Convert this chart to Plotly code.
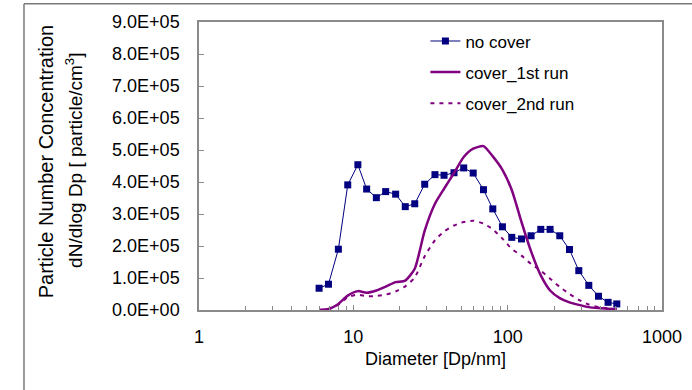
import plotly.graph_objects as go

# Particle diameters (nm)
diameter = [6.0, 6.9, 8.0, 9.2, 10.7, 12.2, 14.1, 16.2, 18.8, 21.7, 25.0, 29.0,
            33.8, 38.7, 44.9, 51.9, 59.8, 69.7, 80.1, 92.5, 106.3, 122.9, 141.8,
            163.9, 188.3, 217.6, 251.5, 289.0, 335.5, 387.6, 447.4, 509.5]

no_cover = [68000, 80600, 190000, 391000, 454000, 378000, 351000, 370000, 362000,
            323000, 332000, 393000, 423000, 421000, 429000, 444000, 428000, 376000,
            316000, 260000, 227000, 222000, 232000, 252000, 252000, 232000, 189000,
            123000, 77000, 43000, 24000, 19000]

cover_1st = [0, 3000, 19000, 45000, 59000, 54000, 61000, 73000, 87000, 92000,
             129000, 248000, 332000, 379000, 428000, 478000, 504000, 512000, 480000,
             438000, 375000, 275000, 183000, 108000, 61000, 37000, 24000, 16000,
             9000, 6000, 4000, 2000]

cover_2nd = [0, 2000, 17000, 40000, 48000, 43000, 44000, 48000, 58000, 74000,
             102000, 168000, 218000, 245000, 264000, 275000, 279000, 270000, 252000,
             223000, 191000, 170000, 144000, 123000, 98000, 72000, 50000, 32000,
             17000, 9000, 5000, 3000]

x_tickvals = [1, 10, 100, 1000]
x_ticktext = ["1", "10", "100", "1000"]
y_tickvals = [0, 1e5, 2e5, 3e5, 4e5, 5e5, 6e5, 7e5, 8e5, 9e5]
y_ticktext = ["0.0E+00", "1.0E+05", "2.0E+05", "3.0E+05", "4.0E+05",
              "5.0E+05", "6.0E+05", "7.0E+05", "8.0E+05", "9.0E+05"]

FONT = "Liberation Sans, Arial, sans-serif"
PURPLE = "#800080"
NAVY = "#000080"
GRID = "#8a8a8a"

fig = go.Figure()
fig.add_trace(go.Scatter(
    x=diameter, y=no_cover, name="no cover", mode="lines+markers",
    line=dict(color=NAVY, width=1), marker=dict(symbol="square", size=7, color=NAVY),
    legendgroup="a"))
fig.add_trace(go.Scatter(
    x=diameter, y=cover_1st, name="cover_1st run", mode="lines",
    line=dict(color=PURPLE, width=2.5, shape="spline", smoothing=0.6),
    legendgroup="b"))
fig.add_trace(go.Scatter(
    x=diameter, y=cover_2nd, name="cover_2nd run", mode="lines",
    line=dict(color=PURPLE, width=2, dash="4px,5px", shape="spline", smoothing=0.6),
    legendgroup="c"))

fig.update_layout(
    width=692, height=390,
    margin=dict(l=199, r=30, t=22, b=80, autoexpand=False),
    paper_bgcolor="white", plot_bgcolor="white",
    font=dict(family=FONT, size=18, color="black"),
    showlegend=True,
    legend=dict(x=0.489, y=0.995, xanchor="left", yanchor="top",
                bgcolor="rgba(0,0,0,0)", font=dict(size=17),
                traceorder="grouped", tracegroupgap=6),
    xaxis=dict(type="log", range=[0, 3], tickvals=x_tickvals, ticktext=x_ticktext,
               ticks="inside", ticklen=5, tickcolor=GRID, showgrid=False,
               showline=True, linecolor=GRID, linewidth=1.5, mirror=True,
               ticklabelstandoff=10, zeroline=False, automargin=False,
               minor=dict(ticks="inside", ticklen=4, tickcolor=GRID, dtick="D1",
                          showgrid=False)),
    yaxis=dict(range=[0, 9e5], tickvals=y_tickvals, ticktext=y_ticktext,
               ticks="inside", ticklen=5, tickcolor=GRID, showgrid=False,
               showline=True, linecolor=GRID, linewidth=1.5, mirror=True,
               ticklabelstandoff=14, zeroline=False, automargin=False),
    annotations=[
        dict(text="Diameter [Dp/nm]", x=0.5116, y=-0.1685, xref="paper", yref="paper",
             xanchor="center", yanchor="middle", showarrow=False, font=dict(size=18)),
        dict(text="Particle Number Concentration", x=-0.3313, y=0.515, xref="paper",
             yref="paper", xanchor="center", yanchor="middle", textangle=-90,
             showarrow=False, font=dict(size=20)),
        dict(text="dN/dlog Dp [ particle/cm<sup>3</sup>]", x=-0.2686, y=0.52,
             xref="paper", yref="paper", xanchor="center", yanchor="middle",
             textangle=-90, showarrow=False, font=dict(size=19)),
    ],
    shapes=[
        dict(type="line", xref="paper", yref="paper", x0=-0.378, x1=1.2,
             y0=1.0632, y1=1.0632, line=dict(color="#7a7a7a", width=1.5)),
        dict(type="line", xref="paper", yref="paper", x0=-0.378, x1=-0.378,
             y0=1.0632, y1=-0.4, line=dict(color="#7a7a7a", width=1.5)),
    ],
)

fig.write_html("out.html", config={"displayModeBar": False},
               post_script="document.body.style.margin='0';document.body.style.overflow='hidden';")
